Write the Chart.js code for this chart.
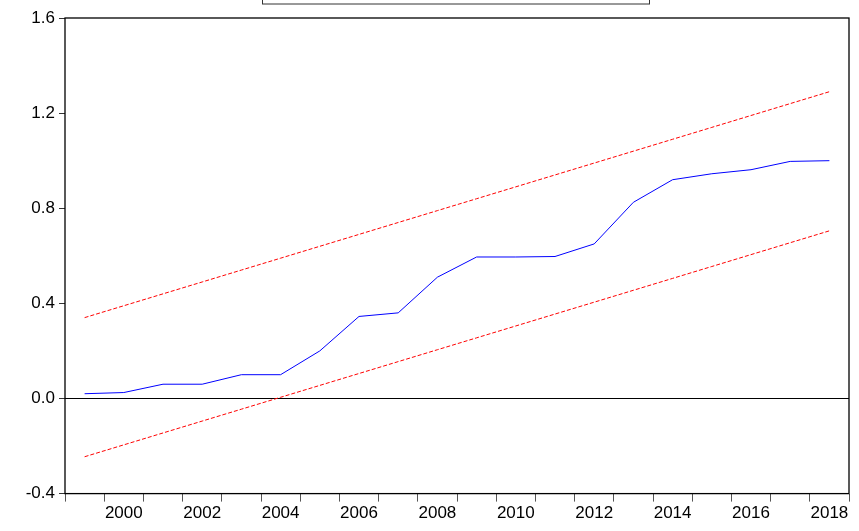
<!DOCTYPE html>
<html><head><script src="https://cdn.jsdelivr.net/npm/chart.js"></script>
<style>body{margin:0;background:#fff}#w{width:859px;height:531px}</style></head>
<body><div id="w"><canvas id="c"></canvas></div>
<script>
const years=['1999','2000','2001','2002','2003','2004','2005','2006','2007','2008','2009','2010','2011','2012','2013','2014','2015','2016','2017','2018'];
const cusumSq=[0.02,0.025,0.06,0.06,0.10,0.10,0.20,0.345,0.36,0.51,0.595,0.595,0.597,0.65,0.825,0.92,0.945,0.962,0.997,1.0];
const upper=[0.34,0.39,0.44,0.49,0.54,0.59,0.64,0.69,0.74,0.79,0.84,0.89,0.94,0.99,1.04,1.09,1.14,1.19,1.24,1.29];
const lower=[-0.245,-0.195,-0.145,-0.095,-0.045,0.005,0.055,0.105,0.155,0.205,0.255,0.305,0.355,0.405,0.455,0.505,0.555,0.605,0.655,0.705];
const yTicks=[-0.4,0,0.4,0.8,1.2,1.6];
const font={family:'"Liberation Sans", Arial, sans-serif',size:17};
const extra={id:'extra',beforeDatasetsDraw(ch){const {ctx,chartArea:a,scales:{y}}=ch;ctx.save();ctx.strokeStyle='#000';ctx.lineWidth=1;
const z=Math.round(y.getPixelForValue(0))+0.5;ctx.beginPath();ctx.moveTo(a.left,z);ctx.lineTo(a.right,z);ctx.stroke();ctx.restore();},
afterDraw(ch){const {ctx,chartArea:a}=ch;ctx.save();ctx.strokeStyle='#000';ctx.lineWidth=1.3;ctx.strokeRect(a.left,a.top,a.right-a.left,a.bottom-a.top);
ctx.lineWidth=1;ctx.strokeStyle='#333';ctx.strokeRect(262.5,-10,387,14);ctx.restore();}};
new Chart(document.getElementById('c'),{type:'line',data:{labels:years,datasets:[
{data:cusumSq,borderColor:'#0000ff',borderWidth:1,pointRadius:0,tension:0},
{data:upper,borderColor:'#ff0000',borderWidth:1,borderDash:[4,2],pointRadius:0},
{data:lower,borderColor:'#ff0000',borderWidth:1,borderDash:[4,2],pointRadius:0}]},
options:{responsive:true,maintainAspectRatio:false,animation:false,
layout:{padding:{top:18,right:10,bottom:5,left:0}},
plugins:{legend:{display:false},tooltip:{enabled:false}},
scales:{x:{offset:true,grid:{offset:true,drawOnChartArea:false,drawTicks:true,tickLength:8,color:'#555'},border:{display:false},
ticks:{autoSkip:false,maxRotation:0,color:'#000',font,padding:2,callback:(v,i)=>(+years[i])%2===0?years[i]:''}},
y:{min:-0.4,max:1.6,afterBuildTicks:s=>{s.ticks=yTicks.map(v=>({value:v}))},afterFit:s=>{s.width=65},
grid:{drawOnChartArea:false,tickLength:6,color:'#333'},border:{display:false},
ticks:{color:'#000',font,padding:4,callback:v=>v.toFixed(1)}}}},plugins:[extra]});
</script></body></html>
